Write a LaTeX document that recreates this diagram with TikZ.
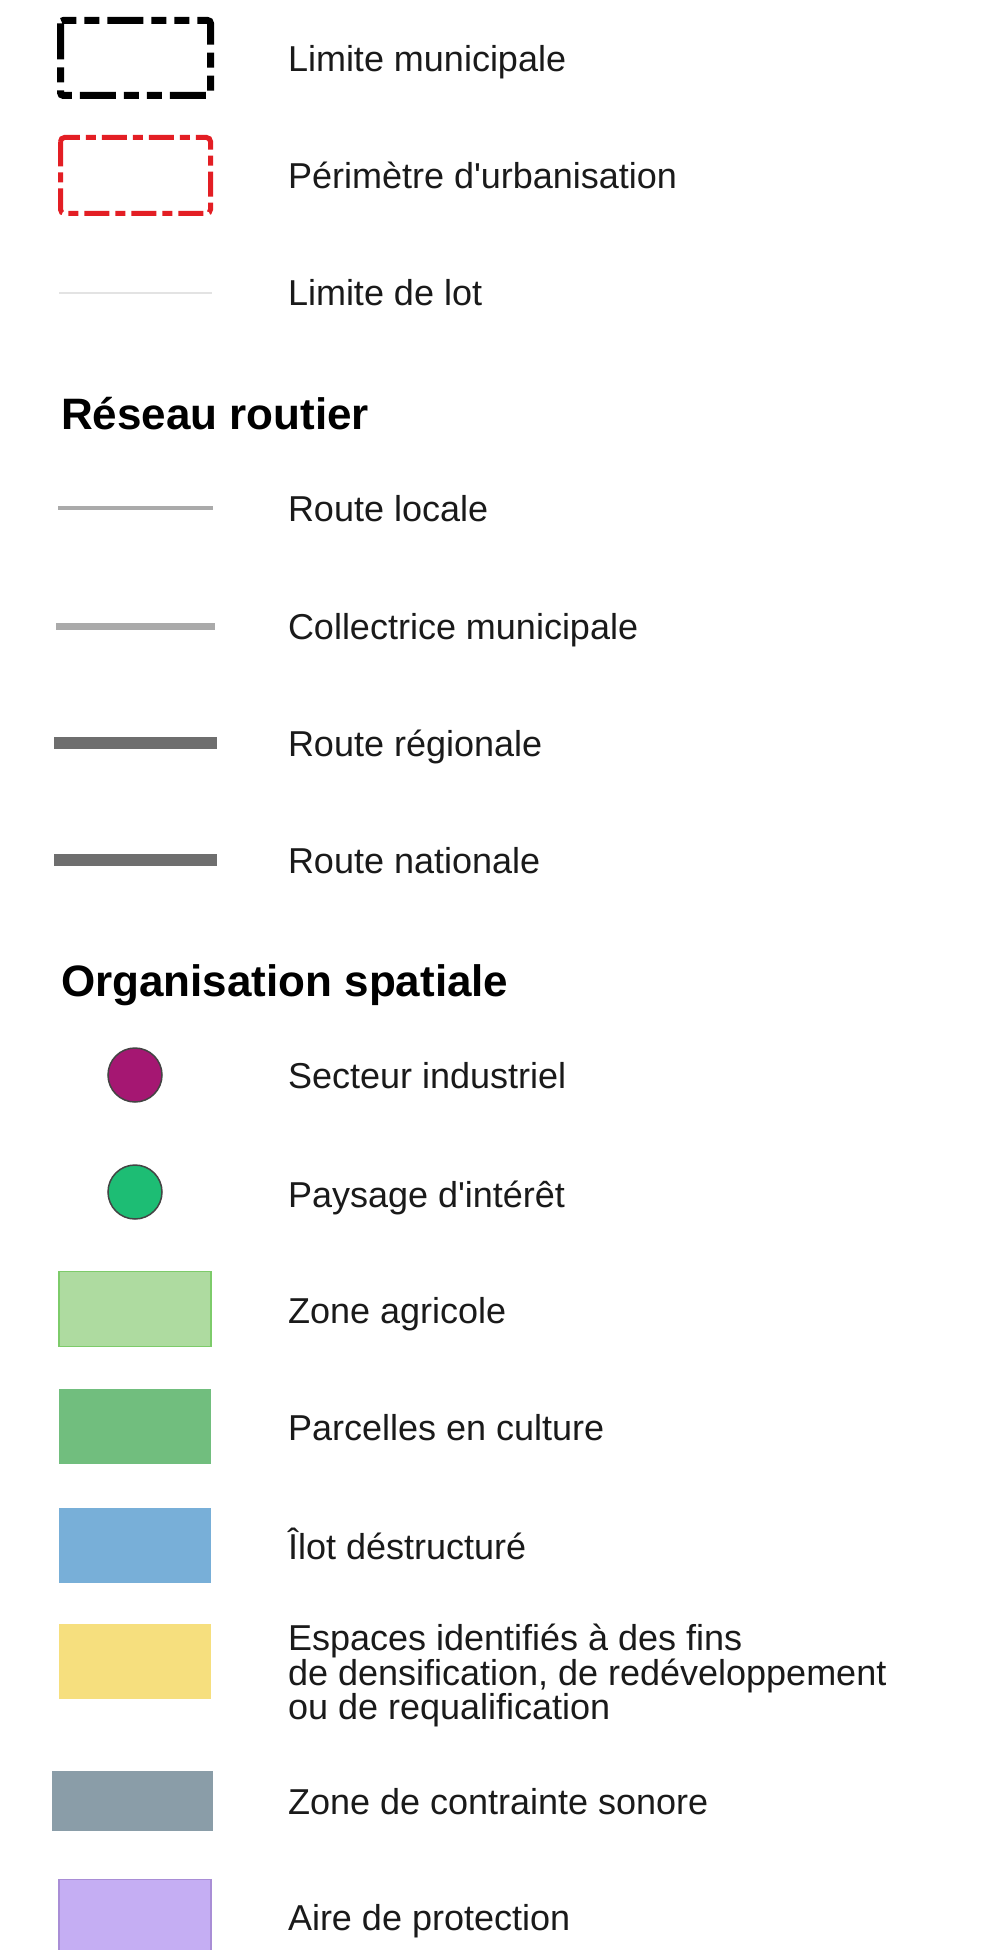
\documentclass[tikz,border=0pt]{standalone}
\usepackage{fontspec}
\setmainfont{Liberation Sans}
\newfontfamily\lsans{Liberation Sans}
\definecolor{legred}{HTML}{E31E24}
\definecolor{lotgray}{HTML}{E3E3E3}
\definecolor{roadlight}{HTML}{AAAAAA}
\definecolor{roaddark}{HTML}{6E6E6E}
\definecolor{indpurple}{HTML}{A51772}
\definecolor{paygreen}{HTML}{1DBD74}
\definecolor{circedge}{HTML}{444444}
\definecolor{agrifill}{HTML}{AEDBA0}
\definecolor{agriedge}{HTML}{7DCB6A}
\definecolor{parcfill}{HTML}{71BE7E}
\definecolor{ilotfill}{HTML}{78AFD8}
\definecolor{espfill}{HTML}{F6DF7E}
\definecolor{sonfill}{HTML}{8A9DA8}
\definecolor{protfill}{HTML}{C5AEF3}
\definecolor{protedge}{HTML}{A98ED6}
\definecolor{txt}{HTML}{1A1A1A}
\begin{document}
\begin{tikzpicture}[x=1pt,y=-1pt,
  lbl/.style={anchor=base west, inner sep=0pt, outer sep=0pt, text=txt, font=\lsans\fontsize{36}{35}\selectfont},
  hdr/.style={anchor=base west, inner sep=0pt, outer sep=0pt, text=black, font=\lsans\bfseries\fontsize{44}{44}\selectfont},
  swatch/.style={rectangle, inner sep=0pt, outer sep=0pt, minimum width=152pt, minimum height=75pt},
  dot/.style={circle, inner sep=0pt, outer sep=0pt, minimum size=54pt, draw=circedge, line width=1.5pt}]
\useasboundingbox[fill=white] (0,0) rectangle (980,1950);

% --- boundaries
\draw[line width=7pt, dash pattern=on 36pt off 8pt on 15pt off 8pt on 15pt off 8pt, rounded corners=3pt]
  (60.5,20.5) rectangle (210.5,95.5);
\node[lbl] (limmun) at (288,72) {Limite municipale};

\draw[color=legred, line width=5pt, dash pattern=on 25pt off 6pt on 10pt off 6pt, rounded corners=4pt]
  (60.5,137.5) rectangle (210.5,213.5);
\node[lbl] (perim) at (288,189) {Périmètre d'urbanisation};

\draw[color=lotgray, line width=2pt] (59,293) -- (212,293);
\node[lbl] (lot) at (288,306) {Limite de lot};

% --- road network
\node[hdr] (hroad) at (61,429) {Réseau routier};

\draw[color=roadlight, line width=4pt] (58,508) -- (213,508);
\node[lbl] (rloc) at (288,521) {Route locale};

\draw[color=roadlight, line width=7pt] (56,626) -- (215,626);
\node[lbl] (rcol) at (288,639) {Collectrice municipale};

\draw[color=roaddark, line width=12pt] (54,743) -- (217,743);
\node[lbl] (rreg) at (288,756) {Route régionale};

\draw[color=roaddark, line width=12pt] (54,860) -- (217,860);
\node[lbl] (rnat) at (288,873) {Route nationale};

% --- spatial organisation
\node[hdr] (hspat) at (61,996) {Organisation spatiale};

\node[dot, fill=indpurple] (cind) at (135,1075) {};
\node[lbl] (lind) at (288,1088) {Secteur industriel};

\node[dot, fill=paygreen] (cpay) at (135,1192) {};
\node[lbl] (lpay) at (288,1207) {Paysage d'intérêt};

\node[swatch, fill=agrifill, draw=agriedge, line width=1.5pt] (sagri) at (135,1309) {};
\node[lbl] (lagri) at (288,1323) {Zone agricole};

\node[swatch, fill=parcfill] (sparc) at (135,1426) {};
\node[lbl] (lparc) at (288,1440) {Parcelles en culture};

\node[swatch, fill=ilotfill] (silot) at (135,1545) {};
\node[lbl] (lilot) at (288,1559) {Îlot déstructuré};

\node[swatch, fill=espfill] (sesp) at (135,1661) {};
\node[lbl] (lesp1) at (288,1650) {Espaces identifiés à des fins};
\node[lbl] (lesp2) at (288,1685) {de densification, de redéveloppement};
\node[lbl] (lesp3) at (288,1719) {ou de requalification};

\node[swatch, fill=sonfill, minimum width=161pt, minimum height=60pt] (sson) at (132.5,1801) {};
\node[lbl] (lson) at (288,1814) {Zone de contrainte sonore};

\node[swatch, fill=protfill, draw=protedge, line width=1.5pt] (sprot) at (135,1917) {};
\node[lbl] (lprot) at (288,1930) {Aire de protection};
\end{tikzpicture}
\end{document}
